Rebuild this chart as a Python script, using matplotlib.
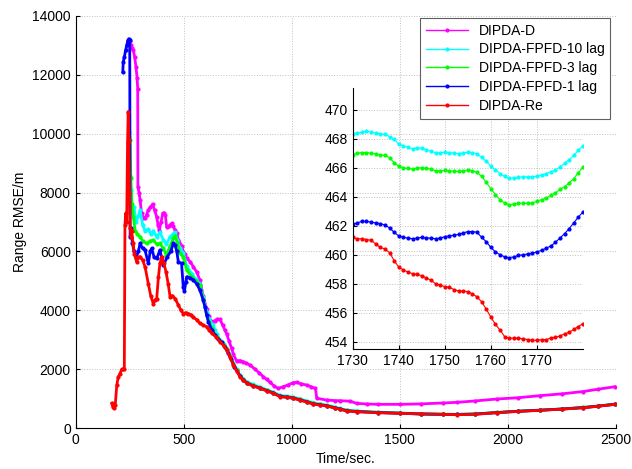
import matplotlib
matplotlib.use('Agg')
from matplotlib import pyplot as plt

plt.rcParams['font.family'] = ['Liberation Sans', 'DejaVu Sans']

labels = ['DIPDA-D', 'DIPDA-FPFD-10 lag', 'DIPDA-FPFD-3 lag', 'DIPDA-FPFD-1 lag', 'DIPDA-Re']
colors = ['#ff00ff', '#00ffff', '#00ff00', '#0000ff', '#ff0000']

# tail shared by the curves after they settle
t_tail = [745, 761, 776, 792, 820, 853, 885, 915, 946, 980, 1007, 1038, 1070, 1100, 1130, 1162,
          1200, 1224, 1255, 1300, 1400, 1501, 1600, 1700, 1764, 1850, 1950, 2050, 2150, 2250,
          2350, 2420, 2497]

# DIPDA-D
t_d = [244, 250, 256, 262, 267, 273, 279, 284, 287, 288, 293, 298, 305, 313, 321, 328, 336, 346,
       356, 365, 375, 381, 387, 395, 403, 410, 415, 421, 430, 437, 444, 452, 460, 468, 475, 490,
       498, 506, 514, 530, 545, 560, 575, 590, 606, 615, 622, 630, 645, 655, 668, 680, 691, 699,
       710, 722, 730, 745, 761, 776, 790, 807, 830, 850, 869, 884, 900, 920, 938, 961, 985, 1007,
       1023, 1045, 1069, 1090, 1110, 1116, 1162, 1200, 1224, 1271, 1300, 1350, 1400, 1501, 1600,
       1700, 1764, 1850, 1950, 2050, 2150, 2250, 2350, 2420, 2497]
v_d = [13200, 13150, 13000, 12900, 12835, 12600, 12270, 11900, 11535, 8195, 8000, 7742, 7290,
       7150, 7120, 7250, 7402, 7500, 7606, 7400, 7175, 6900, 6723, 7000, 7290, 7300, 7230, 6836,
       6850, 6900, 6950, 6850, 6723, 6610, 6400, 6200, 5987, 5900, 5760, 5650, 5478, 5300, 5025,
       4500, 4050, 3800, 3667, 3610, 3650, 3700, 3690, 3500, 3328, 3200, 2950, 2706, 2500, 2280,
       2290, 2252, 2200, 2140, 2000, 1870, 1742, 1650, 1550, 1420, 1347, 1404, 1470, 1540, 1551,
       1500, 1460, 1400, 1347, 1008, 951, 930, 928, 910, 838, 815, 805, 804, 820, 850, 872, 920,
       985, 1030, 1100, 1160, 1240, 1320, 1404]

# DIPDA-FPFD-10 lag
t_c = [250, 256, 262, 270, 280, 290, 298, 310, 321, 336, 347, 359, 375, 390, 405, 420, 437, 452,
       460, 470, 483, 498, 514, 537, 556, 575, 590, 606, 618, 630, 637, 645, 652, 668, 685, 699,
       715, 730] + t_tail
v_c = [8550, 8100, 7300, 7500, 7000, 7200, 7400, 6900, 6700, 6750, 6600, 6700, 6500, 6650, 6400,
       6250, 6500, 6600, 6650, 6400, 6100, 5950, 5500, 5250, 5050, 4900, 4450, 3950, 3700, 3550,
       3497, 3330, 3180, 3000, 2850, 2700, 2460, 2200,
       1990, 1800, 1680, 1570, 1480, 1390, 1300, 1220, 1110, 1080, 1050, 990, 920, 860, 820, 780,
       715, 665, 610, 580, 540, 512, 485, 470, 465, 480, 530, 575, 610, 650, 700, 750, 812]

# DIPDA-FPFD-3 lag
t_g = [249, 252, 255, 260, 267, 275, 285, 298, 310, 328, 345, 359, 375, 390, 405, 420, 435, 452,
       460, 470, 483, 498, 514, 537, 556, 575, 590, 606, 618, 630, 652, 668, 685, 699, 715,
       730] + t_tail
v_g = [10050, 9800, 8500, 7600, 7175, 6700, 6600, 6496, 6350, 6270, 6350, 6383, 6250, 6270, 6100,
       5874, 6150, 6440, 6530, 6300, 5930, 5817, 5365, 5137, 5000, 4856, 4400, 3837, 3600, 3385,
       3102, 2960, 2830, 2680, 2440, 2180,
       1960, 1770, 1650, 1545, 1455, 1370, 1280, 1200, 1085, 1060, 1028, 970, 900, 835, 800, 763,
       695, 650, 595, 567, 530, 505, 478, 468, 463, 477, 527, 572, 607, 647, 697, 747, 810]

# DIPDA-FPFD-1 lag
t_b = [218, 220, 225, 231, 236, 241, 246, 250, 252, 256, 262, 270, 280, 290, 298, 310, 321, 336,
       345, 352, 363, 375, 390, 406, 424, 440, 452, 460, 468, 475, 490, 498, 503, 510, 514, 530,
       545, 560, 575, 590, 598, 606, 614, 630, 645, 660, 675, 690, 705, 720, 735] + t_tail[1:]
v_b = [12100, 12440, 12600, 12835, 13000, 13150, 13220, 13200, 6500, 6800, 6300, 6000, 5800, 6000,
       6270, 6100, 6044, 5592, 6000, 6100, 5800, 5760, 6044, 5535, 5817, 6000, 6270, 6213, 6000,
       5650, 5592, 4800, 4650, 4950, 5137, 5100, 5025, 4900, 4686, 4350, 4120, 3850, 3610, 3328,
       3158, 3030, 2920, 2760, 2560, 2330, 2090,
       1755, 1635, 1530, 1442, 1358, 1270, 1188, 1074, 1050, 1018, 960, 890, 825, 790, 755,
       688, 642, 588, 560, 525, 502, 474, 464, 460, 474, 524, 569, 604, 644, 694, 744, 807]

# DIPDA-Re
t_r = [167, 172, 177, 183, 190, 197, 205, 213, 220, 225, 228, 232, 236, 240, 243, 246, 249, 252,
       256, 259, 265, 272, 282, 290, 298, 310, 321, 336, 347, 359, 367, 375, 383, 390, 398, 408,
       418, 428, 437, 448, 460, 475, 487, 498, 510, 521, 533, 545, 560, 575, 590, 606, 618, 630,
       650, 668, 685, 699, 715, 730] + t_tail
v_r = [838, 720, 680, 780, 1450, 1740, 1850, 1990, 2000, 2010, 6900, 7300, 7000, 9700, 10750,
       9800, 8000, 6800, 6500, 6700, 6300, 5900, 5650, 5800, 5820, 5700, 5480, 4910, 4500, 4230,
       4350, 4400, 5140, 5590, 5820, 5600, 5310, 4900, 4460, 4500, 4400, 4180, 4000, 3890, 3920,
       3890, 3850, 3760, 3680, 3555, 3500, 3440, 3330, 3215, 3100, 2930, 2800, 2650, 2400, 2140,
       1930, 1742, 1620, 1517, 1430, 1347, 1260, 1178, 1064, 1040, 1008, 950, 880, 815, 780, 747,
       680, 634, 580, 554, 520, 498, 480, 466, 454, 465, 520, 565, 600, 640, 690, 740, 804]

# zoomed window 1730-1780 s
t_zoom = list(range(1730, 1781))
z_c = [468.35, 468.4, 468.45, 468.5, 468.45, 468.4, 468.35, 468.3, 468.15, 467.95, 467.65, 467.5,
       467.4, 467.32, 467.38, 467.35, 467.25, 467.12, 467.05, 467.03, 467.07, 467.05, 467.0, 466.98,
       467.02, 467.08, 467.05, 466.95, 466.72, 466.45, 466.1, 465.85, 465.6, 465.4, 465.27, 465.3,
       465.35, 465.37, 465.37, 465.37, 465.42, 465.5, 465.6, 465.72, 465.85, 466.05, 466.3, 466.55,
       466.85, 467.2, 467.5]
z_g = [466.9, 467.0, 467.05, 467.05, 467.0, 466.95, 466.9, 466.85, 466.7, 466.35, 466.1, 466.0,
       465.95, 465.9, 465.98, 466.0, 465.95, 465.9, 465.8, 465.78, 465.82, 465.8, 465.75, 465.75,
       465.78, 465.85, 465.8, 465.68, 465.4, 465.0, 464.55, 464.15, 463.8, 463.55, 463.45, 463.5,
       463.55, 463.55, 463.55, 463.55, 463.7, 463.8, 463.9, 464.1, 464.25, 464.5, 464.7, 464.95,
       465.25, 465.65, 466.05]
z_b = [462.1, 462.2, 462.3, 462.3, 462.25, 462.2, 462.15, 462.05, 461.85, 461.55, 461.3, 461.2,
       461.15, 461.1, 461.15, 461.2, 461.15, 461.15, 461.1, 461.15, 461.25, 461.3, 461.35, 461.4,
       461.5, 461.6, 461.6, 461.55, 461.2, 460.9, 460.5, 460.2, 460.0, 459.85, 459.8, 459.85,
       459.95, 460.0, 460.05, 460.1, 460.2, 460.3, 460.45, 460.6, 460.85, 461.15, 461.45, 461.8,
       462.2, 462.6, 462.95]
z_r = [461.2, 461.1, 461.1, 461.05, 461.0, 460.75, 460.5, 460.4, 460.15, 459.6, 459.15, 458.95,
       458.8, 458.7, 458.65, 458.55, 458.4, 458.25, 458.0, 457.9, 457.8, 457.75, 457.6, 457.5,
       457.5, 457.45, 457.3, 457.1, 456.75, 456.25, 455.7, 455.2, 454.8, 454.35, 454.25, 454.25,
       454.25, 454.2, 454.15, 454.1, 454.1, 454.15, 454.15, 454.25, 454.3, 454.4, 454.55, 454.65,
       454.85, 455.05, 455.25]

fig = plt.figure(figsize=(6.32, 4.69), dpi=100)
ax = fig.add_axes([0.1198, 0.0874, 0.8544, 0.8785])

main = [(t_d, v_d), (t_c, v_c), (t_g, v_g), (t_b, v_b), (t_r, v_r)]
handles = []
for (t, v), c, lab in zip(main, colors, labels):
    h, = ax.plot(t, v, '-', color=c, lw=2.0, marker='.', ms=4, label=lab)
    handles.append(h)

ax.set_xlim(0, 2500)
ax.set_ylim(0, 14000)
ax.set_xticks(range(0, 2501, 500))
ax.set_yticks(range(0, 14001, 2000))
ax.set_xlabel('Time/sec.', fontsize=10)
ax.set_ylabel('Range RMSE/m', fontsize=10)
ax.grid(True, linestyle=':', color='#c0c0c0', lw=0.7)
ax.tick_params(direction='in', labelsize=10, length=3)
for s in ['top', 'right']:
    ax.spines[s].set_visible(False)

# inset
ax_in = fig.add_axes([0.558, 0.2559, 0.3644, 0.5565], facecolor='none')
for z, c in zip([z_c, z_g, z_b, z_r], colors[1:]):
    ax_in.plot(t_zoom, z, '-', color=c, lw=0.8, marker='.', ms=4)
ax_in.set_xlim(1730, 1780)
ax_in.set_ylim(453.5, 471.5)
ax_in.set_xticks(range(1730, 1771, 10))
ax_in.set_yticks(range(454, 471, 2))
ax_in.grid(True, linestyle=':', color='#c0c0c0', lw=0.7)
ax_in.tick_params(direction='in', labelsize=10, length=3)
for s in ['top', 'right']:
    ax_in.spines[s].set_visible(False)

leg = ax_in.legend(handles, labels, loc='upper right', bbox_to_anchor=(610 / 632, 1 - 18 / 469),
                   bbox_transform=fig.transFigure, fontsize=10, fancybox=False, framealpha=1,
                   edgecolor='#606060', handlelength=3, numpoints=1, borderaxespad=0,
                   labelspacing=0.35)
leg.get_frame().set_linewidth(0.8)
for lh in leg.get_lines():
    lh.set_linewidth(1.0)

fig.savefig('out.png', dpi=100)
